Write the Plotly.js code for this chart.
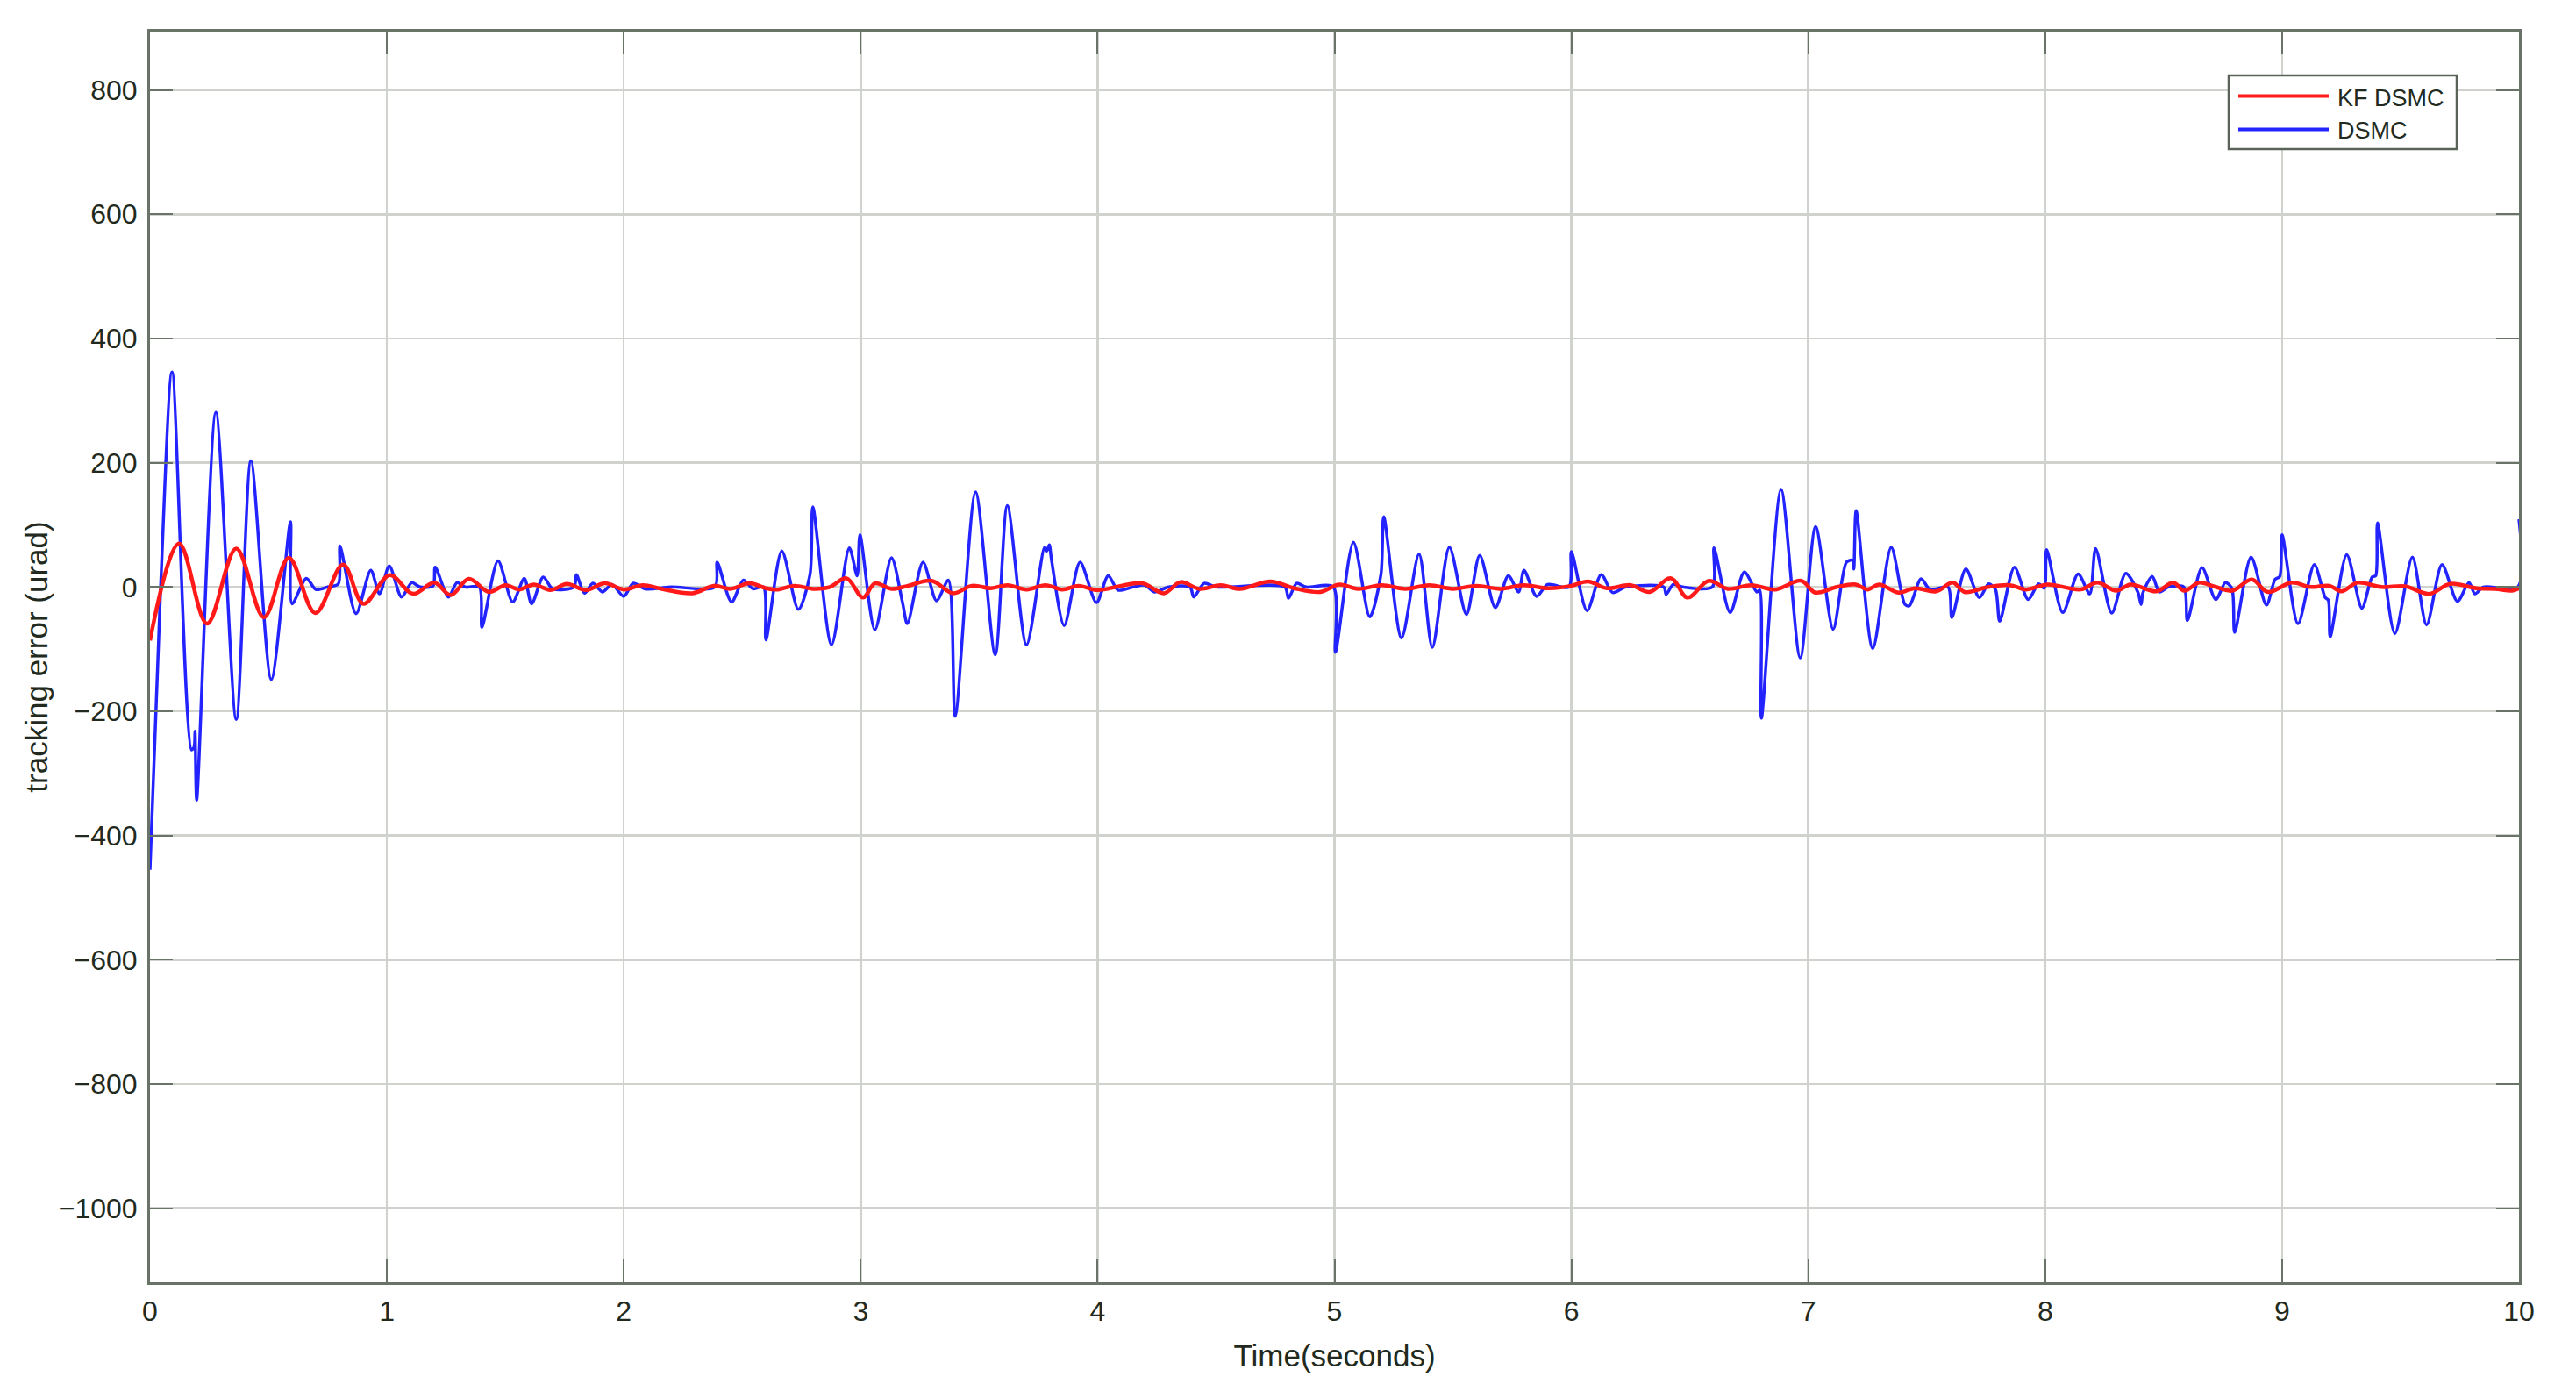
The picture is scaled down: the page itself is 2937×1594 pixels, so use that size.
<!DOCTYPE html>
<html>
<head>
<meta charset="utf-8">
<script src="https://cdn.plot.ly/plotly-3.0.1.min.js"></script>
<style>
  html, body { margin: 0; padding: 0; background: #ffffff; }
  #chart { width: 2937px; height: 1594px; }
</style>
</head>
<body>
<div id="chart"></div>
<script>
// ---------- data ----------
const seriesNames = ["KF DSMC", "DSMC"];

// DSMC (blue): time (s) and tracking error (urad)
const dsmcTime = [
  0.000, 0.045, 0.093, 0.175, 0.186, 0.190, 0.197, 0.278, 0.364, 0.426, 0.512, 0.593, 0.600, 0.660, 0.700, 0.750,
  0.795, 0.802, 0.870, 0.932, 0.969, 1.010, 1.062, 1.105, 1.140, 1.195, 1.204, 1.260, 1.296, 1.330, 1.390, 1.401,
  1.469, 1.531, 1.580, 1.611, 1.660, 1.700, 1.790, 1.800, 1.834, 1.870, 1.910, 1.950, 2.000, 2.040, 2.090, 2.200,
  2.385, 2.394, 2.455, 2.505, 2.546, 2.590, 2.600, 2.667, 2.737, 2.786, 2.798, 2.877, 2.952, 2.985, 2.997, 3.060,
  3.130, 3.176, 3.197, 3.263, 3.320, 3.370, 3.399, 3.485, 3.568, 3.619, 3.700, 3.776, 3.785, 3.796, 3.805, 3.859,
  3.926, 3.995, 4.045, 4.086, 4.150, 4.200, 4.240, 4.300, 4.390, 4.406, 4.450, 4.500, 4.790, 4.806, 4.840, 4.880,
  4.995, 5.004, 5.080, 5.149, 5.196, 5.208, 5.283, 5.357, 5.413, 5.485, 5.557, 5.613, 5.679, 5.734, 5.777, 5.800,
  5.853, 5.900, 5.990, 6.000, 6.066, 6.126, 6.174, 6.230, 6.390, 6.400, 6.430, 6.470, 6.595, 6.602, 6.670, 6.730,
  6.783, 6.795, 6.802, 6.885, 6.966, 7.031, 7.105, 7.161, 7.186, 7.192, 7.202, 7.272, 7.350, 7.408, 7.427, 7.476,
  7.514, 7.590, 7.606, 7.665, 7.722, 7.761, 7.790, 7.808, 7.870, 7.928, 7.972, 7.996, 8.006, 8.074, 8.139, 8.188,
  8.213, 8.281, 8.340, 8.392, 8.405, 8.412, 8.452, 8.482, 8.520, 8.585, 8.600, 8.662, 8.720, 8.761, 8.788, 8.800,
  8.869, 8.934, 8.970, 8.990, 9.000, 9.067, 9.136, 9.182, 9.195, 9.203, 9.273, 9.337, 9.380, 9.395, 9.403, 9.476,
  9.550, 9.610, 9.675, 9.740, 9.789, 9.814, 9.850, 9.995, 10.000
];
const dsmcError = [
  -455,    0,  346, -262, -258, -232, -343,  281, -213,  203, -149,  105,  -27,   14,   -4,    0,
     5,   66,  -43,   27,  -11,   34,  -16,    7,    0,    2,   32,  -16,    7,    0,    0,  -65,
    42,  -24,   14,  -27,   16,   -3,    0,   20,  -10,    6,   -8,    4,  -15,    6,   -3,    0,
     0,   40,  -24,   11,   -3,    0,  -85,   58,  -36,   20,  129,  -93,   63,   18,   84,  -69,
    47,  -24,  -59,   40,  -22,   11, -208,  153, -109,  131,  -93,   64,   58,   68,   45,  -62,
    40,  -25,   18,   -5,    0,    3,   -8,    0,    0,  -16,    6,    0,    0,  -18,    6,    0,
     0, -105,   72,  -48,   20,  113,  -82,   53,  -97,   64,  -44,   51,  -33,   18,   -8,   27,
   -15,    4,    0,   57,  -38,   20,   -9,    0,    0,  -12,    4,    0,    0,   63,  -41,   24,
    -8,   -5, -211,  157, -114,   97,  -68,   40,   43,   29,  123,  -99,   64,  -28,  -30,   13,
    -4,    0,  -49,   29,  -17,    5,   -4,  -55,   32,  -20,    5,   -2,   60,  -41,   21,  -11,
    62,  -42,   22,   -9,  -28,  -10,   17,   -8,    0,    0,  -54,   31,  -20,    7,   -2,  -73,
    48,  -29,   12,   17,   84,  -59,   36,  -17,  -21,  -80,   52,  -34,   16,   18,  103,  -75,
    48,  -61,   36,  -23,    7,  -11,    0,    0,  109
];

// KF DSMC (red): time (s) and tracking error (urad)
const kfTime = [
  0.000, 0.123, 0.241, 0.364, 0.481, 0.586, 0.698, 0.815, 0.901, 1.012, 1.111, 1.200, 1.270, 1.346, 1.430, 1.500,
  1.560, 1.620, 1.690, 1.760, 1.840, 1.920, 2.000, 2.080, 2.160, 2.290, 2.380, 2.450, 2.530, 2.600, 2.650, 2.720,
  2.800, 2.870, 2.940, 3.010, 3.060, 3.130, 3.200, 3.300, 3.390, 3.470, 3.550, 3.620, 3.700, 3.780, 3.850, 3.920,
  4.000, 4.100, 4.190, 4.280, 4.350, 4.430, 4.520, 4.600, 4.730, 4.830, 4.940, 5.020, 5.100, 5.200, 5.300, 5.400,
  5.500, 5.600, 5.700, 5.800, 5.900, 6.000, 6.070, 6.150, 6.250, 6.330, 6.420, 6.490, 6.580, 6.660, 6.760, 6.860,
  6.970, 7.030, 7.120, 7.200, 7.250, 7.300, 7.380, 7.450, 7.540, 7.610, 7.660, 7.760, 7.850, 7.920, 8.010, 8.150,
  8.220, 8.300, 8.360, 8.470, 8.540, 8.587, 8.650, 8.720, 8.790, 8.872, 8.940, 9.040, 9.120, 9.200, 9.250, 9.318,
  9.420, 9.520, 9.622, 9.709, 9.820, 9.900, 9.970, 10.000
];
const kfError = [
   -86,   70,  -59,   62,  -49,   47,  -42,   36,  -27,   19,  -11,    7,  -13,   13,   -8,    3,
    -4,    4,   -5,    5,   -5,    6,   -4,    3,   -3,  -10,    2,   -3,    6,   -2,   -4,    2,
    -3,    0,   14,  -17,    6,   -3,    2,   10,  -10,    2,   -2,    3,   -4,    3,   -4,    2,
    -5,    2,    6,  -10,    8,   -3,    3,   -3,    9,   -2,   -8,    4,   -3,    3,   -3,    3,
    -3,    2,   -3,    3,   -2,    2,    9,   -2,    3,   -8,   14,  -17,   10,   -3,    3,   -4,
    10,   -9,    0,    4,   -4,    4,   -9,   -2,   -7,    7,   -8,    0,    3,   -4,    4,   -4,
     7,   -6,    4,   -7,    7,   -6,    7,    0,   -6,   12,   -8,    7,    0,    2,   -7,    7,
     0,    1,  -11,    5,   -2,   -3,   -6,   -2
];

// axis ticks
const xTickVals = [0, 1, 2, 3, 4, 5, 6, 7, 8, 9, 10];
const yTickVals = [-1000, -800, -600, -400, -200, 0, 200, 400, 600, 800];

// ---------- layout geometry (pixels) ----------
const W = 2937, H = 1594;
const M = { l: 171, r: 65, t: 36, b: 132 };
const plotW = W - M.l - M.r, plotH = H - M.t - M.b;
const px = v => (v - M.l) / plotW;        // pixel x -> paper x
const py = v => (H - M.b - v) / plotH;    // pixel y -> paper y

const axisColor = '#6a7367';
const gridColor = '#cfd2cd';
const textColor = '#222a20';
const fontFam = '"Liberation Sans", Arial, Helvetica, sans-serif';

const traces = [
  {
    x: dsmcTime, y: dsmcError, name: seriesNames[1], type: 'scatter', mode: 'lines',
    line: { color: 'rgb(35,35,255)', width: 3.5, shape: 'spline', smoothing: 0.8 },
    showlegend: false, hoverinfo: 'skip'
  },
  {
    x: kfTime, y: kfError, name: seriesNames[0], type: 'scatter', mode: 'lines',
    line: { color: 'rgb(255,25,25)', width: 4.5, shape: 'spline', smoothing: 1 },
    showlegend: false, hoverinfo: 'skip'
  }
];

// custom legend (MATLAB-style box)
const lg = { x0: 2541, x1: 2801, y0: 86, y1: 170 };
const shapes = [
  { type: 'rect', xref: 'paper', yref: 'paper', layer: 'above',
    x0: px(lg.x0), x1: px(lg.x1), y0: py(lg.y1), y1: py(lg.y0),
    fillcolor: '#ffffff', line: { color: '#5a6357', width: 2.5 } },
  { type: 'line', xref: 'paper', yref: 'paper', layer: 'above',
    x0: px(2552), x1: px(2655), y0: py(109.5), y1: py(109.5),
    line: { color: 'rgb(255,25,25)', width: 4 } },
  { type: 'line', xref: 'paper', yref: 'paper', layer: 'above',
    x0: px(2552), x1: px(2655), y0: py(147.5), y1: py(147.5),
    line: { color: 'rgb(35,35,255)', width: 4 } }
];
const annotations = [
  { xref: 'paper', yref: 'paper', x: px(2663), y: py(112), xanchor: 'left', yanchor: 'middle',
    text: seriesNames[0], showarrow: false, font: { family: fontFam, size: 27, color: textColor } },
  { xref: 'paper', yref: 'paper', x: px(2663), y: py(149), xanchor: 'left', yanchor: 'middle',
    text: seriesNames[1], showarrow: false, font: { family: fontFam, size: 27, color: textColor } }
];

const layout = {
  width: W, height: H,
  margin: M,
  paper_bgcolor: '#ffffff', plot_bgcolor: '#ffffff',
  font: { family: fontFam, color: textColor, size: 32 },
  showlegend: false,
  xaxis: {
    range: [0, 10], tickvals: xTickVals, ticktext: xTickVals.map(String),
    showgrid: true, gridcolor: gridColor, gridwidth: 2.5,
    zeroline: false, showline: true, linecolor: axisColor, linewidth: 3,
    mirror: 'ticks', ticks: 'inside', ticklen: 26, tickwidth: 2, tickcolor: axisColor,
    tickfont: { size: 32, color: textColor }, ticklabelstandoff: 3,
    title: { text: 'Time(seconds)', font: { size: 35, color: textColor }, standoff: 22 },
    automargin: false
  },
  yaxis: {
    range: [-1119, 894], tickvals: yTickVals,
    showgrid: true, gridcolor: gridColor, gridwidth: 2.5,
    zeroline: false, showline: true, linecolor: axisColor, linewidth: 3,
    mirror: 'ticks', ticks: 'inside', ticklen: 26, tickwidth: 2, tickcolor: axisColor,
    tickfont: { size: 32, color: textColor }, ticklabelstandoff: 5,
    title: { text: 'tracking error (urad)', font: { size: 35, color: textColor }, standoff: 2 },
    automargin: false
  },
  shapes: shapes,
  annotations: annotations
};

Plotly.newPlot('chart', traces, layout, { staticPlot: true, displayModeBar: false });
</script>
</body>
</html>
